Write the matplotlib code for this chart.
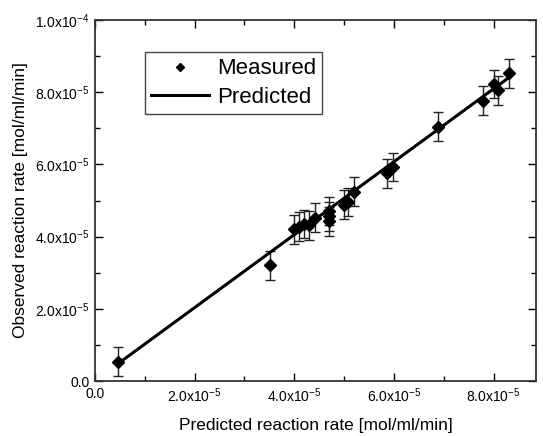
import matplotlib
matplotlib.use("Agg")
import matplotlib.pyplot as plt
from matplotlib.ticker import FixedLocator, MultipleLocator, FuncFormatter

plt.rcParams['font.family'] = ['Liberation Sans', 'DejaVu Sans']
plt.rcParams['mathtext.fontset'] = 'custom'
plt.rcParams['mathtext.rm'] = 'Liberation Sans'
plt.rcParams['mathtext.it'] = 'Liberation Sans'
plt.rcParams['mathtext.default'] = 'regular'

# Data (units of mol/ml/min)
predicted = [0.46e-5, 3.51e-5, 3.99e-5, 4.09e-5, 4.19e-5, 4.29e-5, 4.41e-5,
             4.69e-5, 4.69e-5, 4.69e-5, 4.99e-5, 5.07e-5, 5.19e-5,
             5.87e-5, 5.99e-5, 6.89e-5, 7.78e-5, 8.00e-5, 8.08e-5, 8.30e-5]
observed = [0.53e-5, 3.21e-5, 4.21e-5, 4.27e-5, 4.35e-5, 4.32e-5, 4.52e-5,
            4.71e-5, 4.57e-5, 4.43e-5, 4.88e-5, 4.96e-5, 5.24e-5,
            5.76e-5, 5.93e-5, 7.04e-5, 7.76e-5, 8.23e-5, 8.06e-5, 8.53e-5]
obs_err = [0.4e-5] * len(observed)
line_x = [0.45e-5, 8.30e-5]
line_y = [0.47e-5, 8.40e-5]

x_ticks = [0, 2e-5, 4e-5, 6e-5, 8e-5]
y_ticks = [0, 2e-5, 4e-5, 6e-5, 8e-5, 1e-4]


def fmt(v, pos):
    if v == 0:
        return "0.0"
    exp = 0
    m = v
    while m < 1:
        m *= 10
        exp -= 1
    return "%.1fx10$^{%d}$" % (m, exp)


fig = plt.figure(figsize=(5.43, 4.36), dpi=100)
ax = fig.add_axes([0.175, 0.126, 0.812, 0.828])

ax.errorbar(predicted, observed, yerr=obs_err, fmt='none', ecolor='#222222',
            elinewidth=1.0, capsize=3.5, capthick=1.0, zorder=2)
ax.plot(predicted, observed, linestyle='none', marker='D', markersize=6.3,
        color='black', label='Measured', zorder=3)
ax.plot(line_x, line_y, color='black', linewidth=2.2, label='Predicted', zorder=2.5)

ax.set_xlim(0, 8.85e-5)
ax.set_ylim(0, 1e-4)
ax.xaxis.set_major_locator(FixedLocator(x_ticks))
ax.yaxis.set_major_locator(FixedLocator(y_ticks))
ax.xaxis.set_minor_locator(MultipleLocator(1e-5))
ax.yaxis.set_minor_locator(MultipleLocator(1e-5))
ax.xaxis.set_major_formatter(FuncFormatter(fmt))
ax.yaxis.set_major_formatter(FuncFormatter(fmt))

ax.tick_params(which='both', direction='in', top=True, right=True,
               labeltop=False, labelright=False, width=1.0, colors='black')
ax.tick_params(which='major', length=6, labelsize=10, pad=4)
ax.tick_params(which='minor', length=3.5)
for s in ax.spines.values():
    s.set_linewidth(1.3)
    s.set_color('#333333')

ax.set_xlabel('Predicted reaction rate [mol/ml/min]', fontsize=12.5, labelpad=9)
ax.set_ylabel('Observed reaction rate [mol/ml/min]', fontsize=12.5, labelpad=5)

leg = ax.legend(loc='upper left', bbox_to_anchor=(0.113, 0.911), borderaxespad=0,
                fontsize=16, frameon=True, fancybox=False, framealpha=1,
                edgecolor='#444444', handlelength=2.6, handletextpad=0.35,
                markerscale=0.7, borderpad=0.28, labelspacing=0.35)
leg.get_frame().set_linewidth(1.0)

fig.savefig('out.png', dpi=100)
